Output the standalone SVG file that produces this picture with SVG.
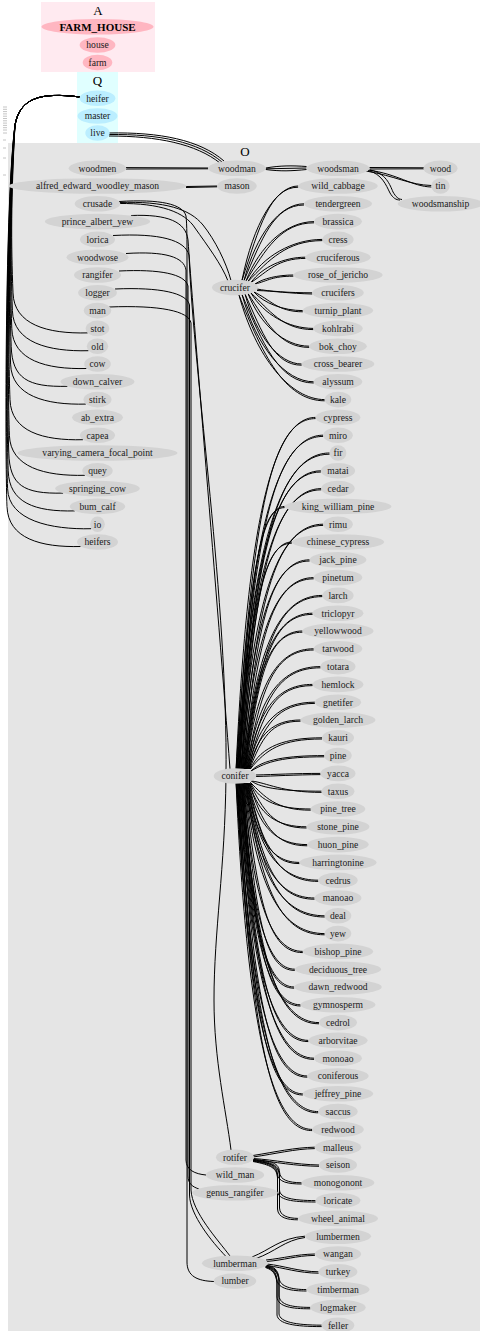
<svg xmlns="http://www.w3.org/2000/svg" width="480" height="1331" viewBox="0 0 480 1331">
<style>
.n ellipse{fill:#d3d3d3;stroke:none}
.p ellipse{fill:#ffb6c1;stroke:none}
.b ellipse{fill:#bbeeff;stroke:none}
text{font-family:"Liberation Serif","Times New Roman",serif;font-size:9.6px;fill:#1a1a1a;text-anchor:middle}
.lbl{font-size:13px;fill:#000}
.bold{font-weight:bold;font-size:11px;fill:#000}
#edges path{fill:none;stroke:#000;stroke-width:1}
#ticks line{stroke:#c4c4c4;stroke-width:1}
</style>
<g id="clusters">
<rect id="cluster-A" x="41" y="2" width="114" height="70" fill="#ffeaf0"/>
<rect id="cluster-Q" x="77" y="72" width="41" height="71" fill="#e0ffff"/>
<rect id="cluster-O" x="8" y="143" width="472" height="1188" fill="#e5e5e5"/>
<text class="lbl" x="98" y="14.5">A</text>
<text class="lbl" x="97.5" y="84.5">Q</text>
<text class="lbl" x="245" y="155.5">O</text>
</g>
<g id="ticks">
<line x1="3" y1="107" x2="7" y2="107"/><line x1="3" y1="109.3" x2="7" y2="109.3"/><line x1="3" y1="111.6" x2="7" y2="111.6"/><line x1="3" y1="113.9" x2="7" y2="113.9"/><line x1="3" y1="116.2" x2="7" y2="116.2"/><line x1="3" y1="118.5" x2="7" y2="118.5"/><line x1="3" y1="120.8" x2="7" y2="120.8"/><line x1="3" y1="123.1" x2="7" y2="123.1"/><line x1="3" y1="125.4" x2="7" y2="125.4"/><line x1="3" y1="127.7" x2="7" y2="127.7"/><line x1="3" y1="130" x2="7" y2="130"/><line x1="3" y1="133" x2="7" y2="133"/><line x1="3" y1="140" x2="6" y2="140"/><line x1="3" y1="148" x2="6" y2="148"/><line x1="3" y1="158" x2="6" y2="158"/><line x1="3" y1="175" x2="6" y2="175"/>
</g>
<g id="edges">
<!-- heifer bundle -->
<path d="M80,97C40,92 20,98 15,125C11,200 11,242.9 13,292.9C14,324.9 47.6,333.9 87.6,332.9"/>
<path d="M80,97C40,92 20,98 15,125C10.4,200 10.4,260.7 12.4,310.7C13.4,342.7 48.4,351.7 88.4,350.7"/>
<path d="M80,97C40,92 20,98 15,125C9.8,200 9.8,278.5 11.8,328.5C12.8,360.5 46.4,369.5 86.4,368.5"/>
<path d="M80,97C40,92 20,98 15,125C9.2,200 9.2,296.3 11.2,346.3C12.2,378.3 27.4,387.3 67.4,386.3"/>
<path d="M80,97C40,92 20,98 15,125C8.6,200 8.6,314.1 10.6,364.1C11.6,396.1 45.8,405.1 85.8,404.1"/>
<path d="M80,97C40,92 20,98 15,125C8,200 8,349.7 10,399.7C11,431.7 43,440.7 83,439.7"/>
<path d="M80,97C40,92 20,98 15,125C7.4,200 7.4,385.3 9.4,435.3C10.4,467.3 44.8,476.3 84.8,475.3"/>
<path d="M80,97C40,92 20,98 15,125C6.8,200 6.8,403.1 8.8,453.1C9.8,485.1 23.1,494.1 63.1,493.1"/>
<path d="M80,97C40,92 20,98 15,125C6.2,200 6.2,420.9 8.2,470.9C9.2,502.9 34.8,511.9 74.8,510.9"/>
<path d="M80,97C40,92 20,98 15,125C5.6,200 5.6,438.7 7.6,488.7C8.6,520.7 51.2,529.7 91.2,528.7"/>
<path d="M80,97C40,92 20,98 15,125C5,200 5,456.5 7,506.5C8,538.5 40.6,547.5 80.6,546.5"/>
<!-- live -> woodman -->
<path d="M109,133C160,132 200,140 224,161"/>
<path d="M109,134.5C160,134 198,142 222,162"/>
<path d="M109,136C158,136 196,144 220,163"/>
<!-- top row -->
<path d="M126,167.6L208.2,168"/>
<path d="M126,169L208.2,168.8"/>
<path d="M265.8,168C280,165.5 292,165.5 306.5,166.5"/>
<path d="M265.8,168.8L306.5,168"/>
<path d="M265.8,169.5C280,171.5 292,171 306.5,169.5"/>
<path d="M369.5,167.5L424,167.8"/>
<path d="M369.5,169L424,168.8"/>
<path d="M366,171C395,176 410,185 431.5,185.5"/>
<path d="M368,170C398,174 412,186.5 431.5,187"/>
<path d="M368,170.5C382,174 386,185 390,193C393,198 396,200 400,200"/>
<path d="M370,170C386,173 390,185 393,192C396,197 398,199 402,199.5"/>
<path d="M186,186.5L217.2,186"/>
<path d="M186,187.5L217.2,186.8"/>
<!-- left column to lower nodes -->
<path d="M119,201.5C160,199 183,204 186,216C187,225 187,240 187,260L187,1262C187,1276 197,1281 214,1281.5"/>
<path d="M119,202.5C165,201 190,209 203,225C215,240 226,262 231,280.5"/>
<path d="M119,203.5C160,203 185,212 195,228C207,245 222,265 228,281"/>
<path d="M131,215.5C168,214 186,222 188,240C192,300 218,610 230,769"/>
<path d="M113,235.5C160,233 185,240 189,255C194,380 228,600 226,776C225,870 214,930 214,1000C214,1060 226,1110 231,1150"/>
<path d="M126,253.5C165,251 184,257 186,270L186,1160C186,1170 195,1174 206,1175"/>
<path d="M119,271C160,269 185,274 188,286L188,1176C188,1184 193,1187 199,1189"/>
<path d="M115,289C160,287 187,293 189.5,305L189.5,1195C190,1215 212,1242 226,1256.5"/>
<path d="M109,307C160,305 189,311 191,323L191,1190C192,1212 218,1240 230,1256"/>
<!-- crucifer fan -->
<path d="M242,280.3C253.2,223.7 275.7,186 298.2,186"/><path d="M242,280.3C259.2,227.7 269.7,187.2 298.2,187.2"/>
<path d="M244,280.6C256,234.5 280,203.8 304,203.8"/><path d="M244,280.6C262,238.5 274,205 304,205"/>
<path d="M246,281C259.6,245.4 286.9,221.6 314.1,221.6"/><path d="M246,281C265.6,249.4 280.9,222.8 314.1,222.8"/>
<path d="M248,281.5C262.9,256.2 292.6,239.4 322.4,239.4"/><path d="M248,281.5C268.9,260.2 286.6,240.6 322.4,240.6"/>
<path d="M251,282.5C261.9,267.3 283.6,257.2 305.4,257.2"/><path d="M251,282.5C267.9,271.3 277.6,258.4 305.4,258.4"/>
<path d="M255,284C262.7,278.6 278,275 293.3,275"/><path d="M255,284C268.7,280.6 272,276.2 293.3,276.2"/>
<path d="M257,289C268,291.3 290.1,292.8 312.2,292.8"/><path d="M257,290.5C274,291 290,293.5 312.2,294"/>
<path d="M254,292C263.8,303.2 283.3,310.6 302.8,310.6"/><path d="M254,292C269.8,299.2 277.3,311.8 302.8,311.8"/>
<path d="M251,293C263.5,314.2 288.4,328.4 313.3,328.4"/><path d="M251,293C269.5,310.2 282.4,329.6 313.3,329.6"/>
<path d="M248,293.5C260.2,325.1 284.7,346.2 309.2,346.2"/><path d="M248,293.5C266.2,321.1 278.7,347.4 309.2,347.4"/>
<path d="M245,294C256.3,336 279,364 301.6,364"/><path d="M245,294C262.3,332 273,365.2 301.6,365.2"/>
<path d="M242,294.5C256.3,346.9 285,381.8 313.7,381.8"/><path d="M242,294.5C262.3,342.9 279,383 313.7,383"/>
<path d="M239,295C256.1,357.8 290.4,399.6 324.7,399.6"/><path d="M239,295C262.1,353.8 284.4,400.8 324.7,400.8"/>
<!-- conifer fan -->
<path d="M236.1,769C248,505.3 275.8,417.4 315.6,417.4"/><path d="M236.1,769C253,511.3 270.8,418.6 315.6,418.6"/>
<path d="M236.9,769C249.8,518.6 280,435.2 323.2,435.2"/><path d="M236.9,769C254.8,524.6 275,436.4 323.2,436.4"/>
<path d="M237.6,769C251.4,532 283.6,453 329.6,453"/><path d="M237.6,769C256.4,538 278.6,454.2 329.6,454.2"/>
<path d="M238.4,769C250.8,545.3 279.6,470.8 320.9,470.8"/><path d="M238.4,769C255.8,551.3 274.6,472 320.9,472"/>
<path d="M239.2,769C251.5,558.7 280.2,488.6 321.3,488.6"/><path d="M239.2,769C256.5,564.7 275.2,489.8 321.3,489.8"/>
<path d="M240,769C246.7,572 262.3,506.4 284.6,506.4"/><path d="M240,769C251.7,578 257.3,507.6 284.6,507.6"/>
<path d="M240.8,769C253.2,585.4 282,524.2 323.2,524.2"/><path d="M240.8,769C258.2,591.4 277,525.4 323.2,525.4"/>
<path d="M241.6,769C249.1,598.7 266.7,542 291.8,542"/><path d="M241.6,769C254.1,604.7 261.7,543.2 291.8,543.2"/>
<path d="M242.4,769C252.5,612.1 276,559.8 309.6,559.8"/><path d="M242.4,769C257.5,618.1 271,561 309.6,561"/>
<path d="M243.2,769C253.8,625.4 278.4,577.6 313.7,577.6"/><path d="M243.2,769C258.8,631.4 273.4,578.8 313.7,578.8"/>
<path d="M244,769C255.8,638.8 283.2,595.4 322.4,595.4"/><path d="M244,769C260.8,644.8 278.2,596.6 322.4,596.6"/>
<path d="M244.8,769C255,652.1 278.7,613.2 312.6,613.2"/><path d="M244.8,769C260,658.1 273.7,614.4 312.6,614.4"/>
<path d="M245.6,769C254.1,665.5 274,631 302.4,631"/><path d="M245.6,769C259.1,671.5 269,632.2 302.4,632.2"/>
<path d="M246.3,769C256.4,678.8 280,648.8 313.7,648.8"/><path d="M246.3,769C261.4,684.8 275,650 313.7,650"/>
<path d="M247.1,769C258.1,692.2 283.8,666.6 320.5,666.6"/><path d="M247.1,769C263.1,698.2 278.8,667.8 320.5,667.8"/>
<path d="M247.9,769C257.6,705.5 280.2,684.4 312.6,684.4"/><path d="M247.9,769C262.6,711.5 275.2,685.6 312.6,685.6"/>
<path d="M248.7,769C258.6,718.9 281.8,702.2 314.9,702.2"/><path d="M248.7,769C263.6,724.9 276.8,703.4 314.9,703.4"/>
<path d="M249.5,769C257.2,732.2 275,720 300.5,720"/><path d="M249.5,769C262.2,738.2 270,721.2 300.5,721.2"/>
<path d="M250.3,769C261.1,745.6 286.1,737.8 322,737.8"/><path d="M250.3,769C266.1,749.6 281.1,739 322,739"/>
<path d="M251.1,771C262.1,759.4 287.7,755.6 324.3,755.6"/><path d="M251.1,771C267.1,761.4 282.7,756.8 324.3,756.8"/>
<path d="M256,775C275,774.5 295,773.4 320.5,773.4"/><path d="M256,776.5C275,776 295,774.8 320.5,774.6"/>
<path d="M251.3,781C261.8,788.7 286.4,791.2 321.6,791.2"/><path d="M251.3,781C266.8,782.7 281.4,792.4 321.6,792.4"/>
<path d="M250.5,782.5C259.5,802.4 280.6,809 310.7,809"/><path d="M250.5,782.5C264.5,796.4 275.6,810.2 310.7,810.2"/>
<path d="M249.7,783C258.2,815.9 278.1,826.8 306.5,826.8"/><path d="M249.7,783C263.2,809.9 273.1,828 306.5,828"/>
<path d="M248.9,783C257.7,829.2 278.1,844.6 307.3,844.6"/><path d="M248.9,783C262.7,823.2 273.1,845.8 307.3,845.8"/>
<path d="M248.1,783C255.8,842.6 273.7,862.4 299.4,862.4"/><path d="M248.1,783C260.8,836.6 268.7,863.6 299.4,863.6"/>
<path d="M247.3,783C258,855.9 282.8,880.2 318.3,880.2"/><path d="M247.3,783C263,849.9 277.8,881.4 318.3,881.4"/>
<path d="M246.5,783C256.7,869.3 280.5,898 314.5,898"/><path d="M246.5,783C261.7,863.3 275.5,899.2 314.5,899.2"/>
<path d="M245.7,783C257.6,882.6 285.2,915.8 324.7,915.8"/><path d="M245.7,783C262.6,876.6 280.2,917 324.7,917"/>
<path d="M244.9,783C256.9,896 284.8,933.6 324.7,933.6"/><path d="M244.9,783C261.9,890 279.8,934.8 324.7,934.8"/>
<path d="M244.1,783C252.9,909.3 273.4,951.4 302.8,951.4"/><path d="M244.1,783C257.9,903.3 268.4,952.6 302.8,952.6"/>
<path d="M243.3,783C251,922.7 269,969.2 294.8,969.2"/><path d="M243.3,783C256,916.7 264,970.4 294.8,970.4"/>
<path d="M242.5,783C250.2,936 268.3,987 294.1,987"/><path d="M242.5,783C255.2,930 263.3,988.2 294.1,988.2"/>
<path d="M241.7,783C250.5,949.4 271.1,1004.8 300.5,1004.8"/><path d="M241.7,783C255.5,943.4 266.1,1006 300.5,1006"/>
<path d="M240.9,783C252.6,962.7 279.9,1022.6 319,1022.6"/><path d="M240.9,783C257.6,956.7 274.9,1023.8 319,1023.8"/>
<path d="M240.1,783C250.3,976.1 274.2,1040.4 308.4,1040.4"/><path d="M240.1,783C255.3,970.1 269.2,1041.6 308.4,1041.6"/>
<path d="M239.3,783C250.5,989.4 276.7,1058.2 314.1,1058.2"/><path d="M239.3,783C255.5,983.4 271.7,1059.4 314.1,1059.4"/>
<path d="M238.5,783C248.8,1002.8 272.9,1076 307.3,1076"/><path d="M238.5,783C253.8,996.8 267.9,1077.2 307.3,1077.2"/>
<path d="M237.7,783C247.5,1016.1 270.2,1093.8 302.8,1093.8"/><path d="M237.7,783C252.5,1010.1 265.2,1095 302.8,1095"/>
<path d="M236.9,783C249.1,1029.5 277.6,1111.6 318.3,1111.6"/><path d="M236.9,783C254.1,1023.5 272.6,1112.8 318.3,1112.8"/>
<path d="M236.1,783C247.5,1042.8 274.1,1129.4 312.2,1129.4"/><path d="M236.1,783C252.5,1036.8 269.1,1130.6 312.2,1130.6"/>
<!-- rotifer fan -->
<path d="M253,1155.5C275,1152 295,1147.5 314.8,1147.2"/><path d="M253,1157C275,1154 295,1148.8 314.8,1148.6"/>
<path d="M253.5,1158.5C275,1160 295,1164.5 319,1165"/><path d="M253.5,1159.5C275,1162 295,1166 319,1166.3"/>
<path d="M253,1159.5C272,1161 279,1163 279.5,1172C280,1180 288,1182.6 301.6,1182.8"/><path d="M253,1160.5C271,1163 277,1166 277.5,1174C278,1182 288,1184 301.6,1184"/>
<path d="M253,1160C272,1162 279,1165 279.5,1175L279.5,1190C280,1198 292,1200.5 315.6,1200.6"/><path d="M253,1161C271,1164 277,1167 277.5,1177L277.5,1191C278,1200 292,1202 315.6,1202"/>
<path d="M253,1160.5C272,1163 279,1166 279.5,1176L279.5,1208C280,1216 288,1218.2 297.9,1218.4"/><path d="M253,1161.5C271,1165 277,1168 277.5,1178L277.5,1209C278,1218 288,1219.8 297.9,1219.8"/>
<!-- lumberman fan -->
<path d="M252,1257C270,1250 280,1238 305,1236.2"/><path d="M256,1258.5C275,1252 285,1240 305,1237.5"/>
<path d="M266,1260C285,1258 295,1254.5 314.9,1254"/><path d="M266.5,1261.5C285,1260 295,1255.8 314.9,1255.4"/>
<path d="M267,1264C285,1266 298,1271.5 318.6,1271.8"/><path d="M267,1265.5C285,1268 298,1273 318.6,1273.2"/>
<path d="M266,1265.5C274,1266 278,1270 279,1278C280,1287 292,1289.5 306.5,1289.6"/><path d="M265.5,1266.5C273,1268 276,1272 277,1280C278,1289 292,1291 306.5,1291"/>
<path d="M266,1266C274,1267 278,1271 279,1280L279,1296C280,1305 292,1307.3 310.3,1307.4"/><path d="M265.5,1267C273,1269 276,1273 277,1282L277,1297C278,1307 292,1308.8 310.3,1308.8"/>
<path d="M266,1266.5C274,1268 278,1272 279,1281L279,1314C280,1322 295,1325 321.7,1325.2"/><path d="M265.5,1267.5C273,1270 276,1274 277,1283L277,1315C278,1324 295,1326.6 321.7,1326.6"/>
</g>
<g id="nodes">
<g id="n-FARM_HOUSE" class="p"><ellipse cx="97.5" cy="26.7" rx="56" ry="7.8"/><text class="bold" x="97.5" y="30.6">FARM_HOUSE</text></g>
<g id="n-house" class="p"><ellipse cx="97.5" cy="45" rx="17.9" ry="7.8"/><text x="97.5" y="48.3">house</text></g>
<g id="n-farm" class="p"><ellipse cx="97.5" cy="62.5" rx="14.8" ry="7.8"/><text x="97.5" y="65.8">farm</text></g>
<g id="n-heifer" class="b"><ellipse cx="97.5" cy="98.3" rx="17.9" ry="7.8"/><text x="97.5" y="101.6">heifer</text></g>
<g id="n-master" class="b"><ellipse cx="97.5" cy="116" rx="20" ry="7.8"/><text x="97.5" y="119.3">master</text></g>
<g id="n-live" class="b"><ellipse cx="97.5" cy="133" rx="12.2" ry="7.8"/><text x="97.5" y="136.3">live</text></g>

<g id="n-woodmen" class="n"><ellipse cx="97.5" cy="168.2" rx="28.8" ry="7.8"/><text x="97.5" y="171.5">woodmen</text></g>
<g id="n-alfred_edward_woodley_mason" class="n"><ellipse cx="97.5" cy="186" rx="89" ry="7.8"/><text x="97.5" y="189.3">alfred_edward_woodley_mason</text></g>
<g id="n-crusade" class="n"><ellipse cx="97.5" cy="203.8" rx="22.8" ry="7.8"/><text x="97.5" y="207.1">crusade</text></g>
<g id="n-prince_albert_yew" class="n"><ellipse cx="97.5" cy="221.6" rx="52.6" ry="7.8"/><text x="97.5" y="224.9">prince_albert_yew</text></g>
<g id="n-lorica" class="n"><ellipse cx="97.5" cy="239.4" rx="17.5" ry="7.8"/><text x="97.5" y="242.7">lorica</text></g>
<g id="n-woodwose" class="n"><ellipse cx="97.5" cy="257.2" rx="31" ry="7.8"/><text x="97.5" y="260.5">woodwose</text></g>
<g id="n-rangifer" class="n"><ellipse cx="97.5" cy="275" rx="23.5" ry="7.8"/><text x="97.5" y="278.3">rangifer</text></g>
<g id="n-logger" class="n"><ellipse cx="97.5" cy="292.8" rx="19.4" ry="7.8"/><text x="97.5" y="296.1">logger</text></g>
<g id="n-man" class="n"><ellipse cx="97.5" cy="310.6" rx="13.7" ry="7.8"/><text x="97.5" y="313.9">man</text></g>
<g id="n-stot" class="n"><ellipse cx="97.5" cy="328.4" rx="11.8" ry="7.8"/><text x="97.5" y="331.7">stot</text></g>
<g id="n-old" class="n"><ellipse cx="97.5" cy="346.2" rx="10.7" ry="7.8"/><text x="97.5" y="349.5">old</text></g>
<g id="n-cow" class="n"><ellipse cx="97.5" cy="364" rx="13.3" ry="7.8"/><text x="97.5" y="367.3">cow</text></g>
<g id="n-down_calver" class="n"><ellipse cx="97.5" cy="381.8" rx="37" ry="7.8"/><text x="97.5" y="385.1">down_calver</text></g>
<g id="n-stirk" class="n"><ellipse cx="97.5" cy="399.6" rx="14" ry="7.8"/><text x="97.5" y="402.9">stirk</text></g>
<g id="n-ab_extra" class="n"><ellipse cx="97.5" cy="417.4" rx="25.4" ry="7.8"/><text x="97.5" y="420.7">ab_extra</text></g>
<g id="n-capea" class="n"><ellipse cx="97.5" cy="435.2" rx="17.5" ry="7.8"/><text x="97.5" y="438.5">capea</text></g>
<g id="n-varying_camera_focal_point" class="n"><ellipse cx="97.5" cy="453" rx="80" ry="7.8"/><text x="97.5" y="456.3">varying_camera_focal_point</text></g>
<g id="n-quey" class="n"><ellipse cx="97.5" cy="470.8" rx="15.2" ry="7.8"/><text x="97.5" y="474.1">quey</text></g>
<g id="n-springing_cow" class="n"><ellipse cx="97.5" cy="488.6" rx="42.4" ry="7.8"/><text x="97.5" y="491.9">springing_cow</text></g>
<g id="n-bum_calf" class="n"><ellipse cx="97.5" cy="506.4" rx="27.7" ry="7.8"/><text x="97.5" y="509.7">bum_calf</text></g>
<g id="n-io" class="n"><ellipse cx="97.5" cy="524.2" rx="7.3" ry="7.8"/><text x="97.5" y="527.5">io</text></g>
<g id="n-heifers" class="n"><ellipse cx="97.5" cy="542" rx="20.5" ry="7.8"/><text x="97.5" y="545.3">heifers</text></g>

<g id="n-woodman" class="n"><ellipse cx="237" cy="168.2" rx="28.8" ry="7.8"/><text x="237" y="171.5">woodman</text></g>
<g id="n-mason" class="n"><ellipse cx="237" cy="186" rx="19.8" ry="7.8"/><text x="237" y="189.3">mason</text></g>
<g id="n-crucifer" class="n"><ellipse cx="235" cy="287.5" rx="23" ry="7.8"/><text x="235" y="290.8">crucifer</text></g>
<g id="n-conifer" class="n"><ellipse cx="235" cy="776" rx="21.3" ry="7.8"/><text x="235" y="779.3">conifer</text></g>
<g id="n-rotifer" class="n"><ellipse cx="235" cy="1157.3" rx="19" ry="7.8"/><text x="235" y="1160.6">rotifer</text></g>
<g id="n-wild_man" class="n"><ellipse cx="235" cy="1175" rx="29.2" ry="7.8"/><text x="235" y="1178.3">wild_man</text></g>
<g id="n-genus_rangifer" class="n"><ellipse cx="235" cy="1192.7" rx="42.8" ry="7.8"/><text x="235" y="1196">genus_rangifer</text></g>
<g id="n-lumberman" class="n"><ellipse cx="235" cy="1263.3" rx="33" ry="7.8"/><text x="235" y="1266.6">lumberman</text></g>
<g id="n-lumber" class="n"><ellipse cx="235" cy="1281" rx="21.3" ry="7.8"/><text x="235" y="1284.3">lumber</text></g>

<g id="n-woodsman" class="n"><ellipse cx="338" cy="168.2" rx="31.5" ry="7.8"/><text x="338" y="171.5">woodsman</text></g>
<g id="n-wood" class="n"><ellipse cx="440.5" cy="168.2" rx="17" ry="7.8"/><text x="440.5" y="171.5">wood</text></g>
<g id="n-tin" class="n"><ellipse cx="440.5" cy="186" rx="9.2" ry="7.8"/><text x="440.5" y="189.3">tin</text></g>
<g id="n-woodsmanship" class="n"><ellipse cx="440.5" cy="203.8" rx="42.8" ry="7.8"/><text x="440.5" y="207.1">woodsmanship</text></g>

<g id="n-wild_cabbage" class="n"><ellipse cx="338" cy="186" rx="39.8" ry="7.8"/><text x="338" y="189.3">wild_cabbage</text></g>
<g id="n-tendergreen" class="n"><ellipse cx="338" cy="203.8" rx="34" ry="7.8"/><text x="338" y="207.1">tendergreen</text></g>
<g id="n-brassica" class="n"><ellipse cx="338" cy="221.6" rx="23.9" ry="7.8"/><text x="338" y="224.9">brassica</text></g>
<g id="n-cress" class="n"><ellipse cx="338" cy="239.4" rx="15.6" ry="7.8"/><text x="338" y="242.7">cress</text></g>
<g id="n-cruciferous" class="n"><ellipse cx="338" cy="257.2" rx="32.6" ry="7.8"/><text x="338" y="260.5">cruciferous</text></g>
<g id="n-rose_of_jericho" class="n"><ellipse cx="338" cy="275" rx="44.7" ry="7.8"/><text x="338" y="278.3">rose_of_jericho</text></g>
<g id="n-crucifers" class="n"><ellipse cx="338" cy="292.8" rx="25.8" ry="7.8"/><text x="338" y="296.1">crucifers</text></g>
<g id="n-turnip_plant" class="n"><ellipse cx="338" cy="310.6" rx="35.2" ry="7.8"/><text x="338" y="313.9">turnip_plant</text></g>
<g id="n-kohlrabi" class="n"><ellipse cx="338" cy="328.4" rx="24.7" ry="7.8"/><text x="338" y="331.7">kohlrabi</text></g>
<g id="n-bok_choy" class="n"><ellipse cx="338" cy="346.2" rx="28.8" ry="7.8"/><text x="338" y="349.5">bok_choy</text></g>
<g id="n-cross_bearer" class="n"><ellipse cx="338" cy="364" rx="36.4" ry="7.8"/><text x="338" y="367.3">cross_bearer</text></g>
<g id="n-alyssum" class="n"><ellipse cx="338" cy="381.8" rx="24.3" ry="7.8"/><text x="338" y="385.1">alyssum</text></g>
<g id="n-kale" class="n"><ellipse cx="338" cy="399.6" rx="13.3" ry="7.8"/><text x="338" y="402.9">kale</text></g>
<g id="n-cypress" class="n"><ellipse cx="338" cy="417.4" rx="22.4" ry="7.8"/><text x="338" y="420.7">cypress</text></g>
<g id="n-miro" class="n"><ellipse cx="338" cy="435.2" rx="14.8" ry="7.8"/><text x="338" y="438.5">miro</text></g>
<g id="n-fir" class="n"><ellipse cx="338" cy="453" rx="8.4" ry="7.8"/><text x="338" y="456.3">fir</text></g>
<g id="n-matai" class="n"><ellipse cx="338" cy="470.8" rx="17.1" ry="7.8"/><text x="338" y="474.1">matai</text></g>
<g id="n-cedar" class="n"><ellipse cx="338" cy="488.6" rx="16.7" ry="7.8"/><text x="338" y="491.9">cedar</text></g>
<g id="n-king_william_pine" class="n"><ellipse cx="338" cy="506.4" rx="53.4" ry="7.8"/><text x="338" y="509.7">king_william_pine</text></g>
<g id="n-rimu" class="n"><ellipse cx="338" cy="524.2" rx="14.8" ry="7.8"/><text x="338" y="527.5">rimu</text></g>
<g id="n-chinese_cypress" class="n"><ellipse cx="338" cy="542" rx="46.2" ry="7.8"/><text x="338" y="545.3">chinese_cypress</text></g>
<g id="n-jack_pine" class="n"><ellipse cx="338" cy="559.8" rx="28.4" ry="7.8"/><text x="338" y="563.1">jack_pine</text></g>
<g id="n-pinetum" class="n"><ellipse cx="338" cy="577.6" rx="24.3" ry="7.8"/><text x="338" y="580.9">pinetum</text></g>
<g id="n-larch" class="n"><ellipse cx="338" cy="595.4" rx="15.6" ry="7.8"/><text x="338" y="598.7">larch</text></g>
<g id="n-triclopyr" class="n"><ellipse cx="338" cy="613.2" rx="25.4" ry="7.8"/><text x="338" y="616.5">triclopyr</text></g>
<g id="n-yellowwood" class="n"><ellipse cx="338" cy="631" rx="35.6" ry="7.8"/><text x="338" y="634.3">yellowwood</text></g>
<g id="n-tarwood" class="n"><ellipse cx="338" cy="648.8" rx="24.3" ry="7.8"/><text x="338" y="652.1">tarwood</text></g>
<g id="n-totara" class="n"><ellipse cx="338" cy="666.6" rx="17.5" ry="7.8"/><text x="338" y="669.9">totara</text></g>
<g id="n-hemlock" class="n"><ellipse cx="338" cy="684.4" rx="25.4" ry="7.8"/><text x="338" y="687.7">hemlock</text></g>
<g id="n-gnetifer" class="n"><ellipse cx="338" cy="702.2" rx="23.1" ry="7.8"/><text x="338" y="705.5">gnetifer</text></g>
<g id="n-golden_larch" class="n"><ellipse cx="338" cy="720" rx="37.5" ry="7.8"/><text x="338" y="723.3">golden_larch</text></g>
<g id="n-kauri" class="n"><ellipse cx="338" cy="737.8" rx="16" ry="7.8"/><text x="338" y="741.1">kauri</text></g>
<g id="n-pine" class="n"><ellipse cx="338" cy="755.6" rx="13.7" ry="7.8"/><text x="338" y="758.9">pine</text></g>
<g id="n-yacca" class="n"><ellipse cx="338" cy="773.4" rx="17.5" ry="7.8"/><text x="338" y="776.7">yacca</text></g>
<g id="n-taxus" class="n"><ellipse cx="338" cy="791.2" rx="16.4" ry="7.8"/><text x="338" y="794.5">taxus</text></g>
<g id="n-pine_tree" class="n"><ellipse cx="338" cy="809" rx="27.3" ry="7.8"/><text x="338" y="812.3">pine_tree</text></g>
<g id="n-stone_pine" class="n"><ellipse cx="338" cy="826.8" rx="31.5" ry="7.8"/><text x="338" y="830.1">stone_pine</text></g>
<g id="n-huon_pine" class="n"><ellipse cx="338" cy="844.6" rx="30.7" ry="7.8"/><text x="338" y="847.9">huon_pine</text></g>
<g id="n-harringtonine" class="n"><ellipse cx="338" cy="862.4" rx="38.6" ry="7.8"/><text x="338" y="865.7">harringtonine</text></g>
<g id="n-cedrus" class="n"><ellipse cx="338" cy="880.2" rx="19.7" ry="7.8"/><text x="338" y="883.5">cedrus</text></g>
<g id="n-manoao" class="n"><ellipse cx="338" cy="898" rx="23.5" ry="7.8"/><text x="338" y="901.3">manoao</text></g>
<g id="n-deal" class="n"><ellipse cx="338" cy="915.8" rx="13.3" ry="7.8"/><text x="338" y="919.1">deal</text></g>
<g id="n-yew" class="n"><ellipse cx="338" cy="933.6" rx="13.3" ry="7.8"/><text x="338" y="936.9">yew</text></g>
<g id="n-bishop_pine" class="n"><ellipse cx="338" cy="951.4" rx="35.2" ry="7.8"/><text x="338" y="954.7">bishop_pine</text></g>
<g id="n-deciduous_tree" class="n"><ellipse cx="338" cy="969.2" rx="43.2" ry="7.8"/><text x="338" y="972.5">deciduous_tree</text></g>
<g id="n-dawn_redwood" class="n"><ellipse cx="338" cy="987" rx="43.9" ry="7.8"/><text x="338" y="990.3">dawn_redwood</text></g>
<g id="n-gymnosperm" class="n"><ellipse cx="338" cy="1004.8" rx="37.5" ry="7.8"/><text x="338" y="1008.1">gymnosperm</text></g>
<g id="n-cedrol" class="n"><ellipse cx="338" cy="1022.6" rx="19" ry="7.8"/><text x="338" y="1025.9">cedrol</text></g>
<g id="n-arborvitae" class="n"><ellipse cx="338" cy="1040.4" rx="29.6" ry="7.8"/><text x="338" y="1043.7">arborvitae</text></g>
<g id="n-monoao" class="n"><ellipse cx="338" cy="1058.2" rx="23.9" ry="7.8"/><text x="338" y="1061.5">monoao</text></g>
<g id="n-coniferous" class="n"><ellipse cx="338" cy="1076" rx="30.7" ry="7.8"/><text x="338" y="1079.3">coniferous</text></g>
<g id="n-jeffrey_pine" class="n"><ellipse cx="338" cy="1093.8" rx="35.2" ry="7.8"/><text x="338" y="1097.1">jeffrey_pine</text></g>
<g id="n-saccus" class="n"><ellipse cx="338" cy="1111.6" rx="19.7" ry="7.8"/><text x="338" y="1114.9">saccus</text></g>
<g id="n-redwood" class="n"><ellipse cx="338" cy="1129.4" rx="25.8" ry="7.8"/><text x="338" y="1132.7">redwood</text></g>
<g id="n-malleus" class="n"><ellipse cx="338" cy="1147.2" rx="23.2" ry="7.8"/><text x="338" y="1150.5">malleus</text></g>
<g id="n-seison" class="n"><ellipse cx="338" cy="1165" rx="19" ry="7.8"/><text x="338" y="1168.3">seison</text></g>
<g id="n-monogonont" class="n"><ellipse cx="338" cy="1182.8" rx="36.4" ry="7.8"/><text x="338" y="1186.1">monogonont</text></g>
<g id="n-loricate" class="n"><ellipse cx="338" cy="1200.6" rx="22.4" ry="7.8"/><text x="338" y="1203.9">loricate</text></g>
<g id="n-wheel_animal" class="n"><ellipse cx="338" cy="1218.4" rx="40.1" ry="7.8"/><text x="338" y="1221.7">wheel_animal</text></g>
<g id="n-lumbermen" class="n"><ellipse cx="338" cy="1236.2" rx="33" ry="7.8"/><text x="338" y="1239.5">lumbermen</text></g>
<g id="n-wangan" class="n"><ellipse cx="338" cy="1254" rx="23.1" ry="7.8"/><text x="338" y="1257.3">wangan</text></g>
<g id="n-turkey" class="n"><ellipse cx="338" cy="1271.8" rx="19.4" ry="7.8"/><text x="338" y="1275.1">turkey</text></g>
<g id="n-timberman" class="n"><ellipse cx="338" cy="1289.6" rx="31.5" ry="7.8"/><text x="338" y="1292.9">timberman</text></g>
<g id="n-logmaker" class="n"><ellipse cx="338" cy="1307.4" rx="27.7" ry="7.8"/><text x="338" y="1310.7">logmaker</text></g>
<g id="n-feller" class="n"><ellipse cx="338" cy="1325.2" rx="16.3" ry="7.8"/><text x="338" y="1328.5">feller</text></g>
</g>
</svg>
